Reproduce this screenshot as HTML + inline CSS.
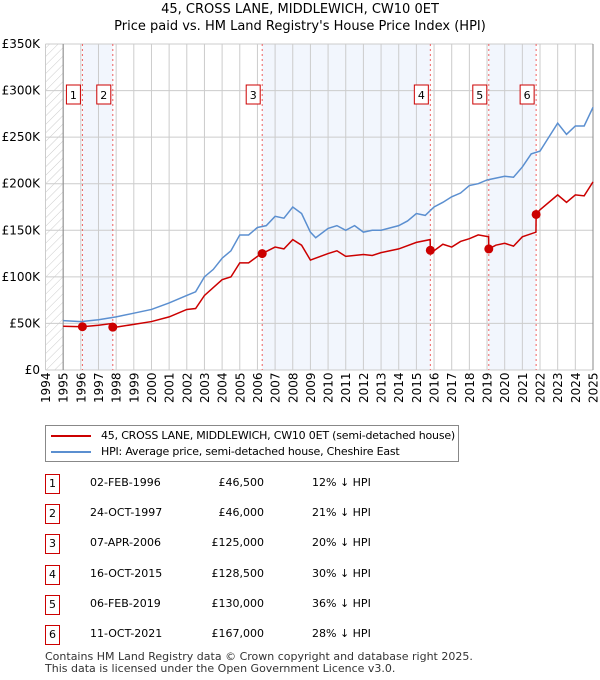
<!DOCTYPE html>
<html><head><meta charset="utf-8"><style>
body{margin:0;background:#fff;font-family:"DejaVu Sans","Liberation Sans",sans-serif;}
#wrap{position:relative;width:600px;height:680px;overflow:hidden;}
.t{position:absolute;font-size:11px;color:#000;white-space:nowrap;}
.box{position:absolute;width:13px;height:18px;border:1px solid #c00;font-size:11px;text-align:center;line-height:18px;}
</style></head><body>
<div id="wrap">
<svg id="chart" width="600" height="420" style="position:absolute;left:0;top:0"></svg>
<div style="position:absolute;left:45px;top:425px;width:412px;height:35px;border:1px solid #888;">
 <div style="position:absolute;left:5px;top:3px;font-size:11px;white-space:nowrap;letter-spacing:-0.2px"><span style="display:inline-block;width:40px;height:2px;background:#c00;vertical-align:middle;margin-right:10px"></span>45, CROSS LANE, MIDDLEWICH, CW10 0ET (semi-detached house)</div>
 <div style="position:absolute;left:5px;top:19px;font-size:11px;white-space:nowrap;letter-spacing:-0.2px"><span style="display:inline-block;width:40px;height:2px;background:#5b8fd0;vertical-align:middle;margin-right:10px"></span>HPI: Average price, semi-detached house, Cheshire East</div>
</div>
<div id="tbl"></div>
<div class="t" style="left:45px;top:650px;font-size:11px;color:#333">Contains HM Land Registry data © Crown copyright and database right 2025.</div>
<div class="t" style="left:45px;top:662px;font-size:11px;color:#333">This data is licensed under the Open Government Licence v3.0.</div>
</div>
<script>
const yTicks=[0,50,100,150,200,250,300,350];
const years=[1994,1995,1996,1997,1998,1999,2000,2001,2002,2003,2004,2005,2006,2007,2008,2009,2010,2011,2012,2013,2014,2015,2016,2017,2018,2019,2020,2021,2022,2023,2024,2025];
const hpiDates=[1995,1996,1997,1998,1999,2000,2001,2002,2002.5,2003,2003.5,2004,2004.5,2005,2005.5,2006,2006.5,2007,2007.5,2008,2008.5,2009,2009.3,2010,2010.5,2011,2011.5,2012,2012.5,2013,2014,2014.5,2015,2015.5,2016,2016.5,2017,2017.5,2018,2018.5,2019,2019.5,2020,2020.5,2021,2021.5,2022,2022.5,2023,2023.5,2024,2024.5,2025];
const hpiValues=[53,52,54,57,61,65,72,80,84,100,108,120,128,145,145,153,155,165,163,175,168,148,142,152,155,150,155,148,150,150,155,160,168,166,175,180,186,190,198,200,204,206,208,207,218,232,235,250,265,253,262,262,282];
const redDates=[1995,1996.09,1997,1997.8,1997.81,1998,1999,2000,2001,2002,2002.5,2003,2004,2004.5,2005,2005.5,2006,2006.27,2007,2007.5,2008,2008.5,2009,2010,2010.5,2011,2012,2012.5,2013,2014,2015,2015.78,2015.79,2016,2016.5,2017,2017.5,2018,2018.5,2019.09,2019.1,2019.5,2020,2020.5,2021,2021.77,2021.78,2022,2023,2023.5,2024,2024.5,2025];
const redValues=[47,46.5,48,50,46,46,49,52,57,65,66,80,97,100,115,115,122,125,132,130,140,134,118,125,128,122,124,123,126,130,137,140,128.5,128,135,132,138,141,145,143,130,134,136,133,143,148,167,172,188,180,188,187,202];
const saleLabels=["1","2","3","4","5","6"];
const saleDates=[1996.09,1997.81,2006.27,2015.79,2019.10,2021.78];
const salePrices=[46.5,46,125,128.5,130,167];
const saleDateText=["02-FEB-1996","24-OCT-1997","07-APR-2006","16-OCT-2015","06-FEB-2019","11-OCT-2021"];
const salePriceText=["£46,500","£46,000","£125,000","£128,500","£130,000","£167,000"];
const salePctText=["12% ↓ HPI","21% ↓ HPI","20% ↓ HPI","30% ↓ HPI","36% ↓ HPI","28% ↓ HPI"];

const FF='DejaVu Sans, Liberation Sans, sans-serif';
const X0=45.5,X1=593,Y0=370,Y1=44;
const xs=v=>X0+(v-1994)/(2025-1994)*(X1-X0);
const ys=v=>Y0-v/350*(Y0-Y1);
const NS="http://www.w3.org/2000/svg";
const svg=document.getElementById('chart');
function mk(tag,attrs,parent){const e=document.createElementNS(NS,tag);for(const k in attrs)e.setAttribute(k,attrs[k]);(parent||svg).appendChild(e);return e;}
const defs=mk('defs',{});
const pat=mk('pattern',{id:'hatch',width:6,height:6,patternUnits:'userSpaceOnUse',patternTransform:'rotate(45)'},defs);
mk('line',{x1:0,y1:0,x2:0,y2:6,stroke:'#ccc','stroke-width':1},pat);
let e=mk('rect',{x:X0,y:Y1,width:xs(1995)-X0,height:Y0-Y1,fill:'url(#hatch)'});


for(let i=0;i<6;i+=2){
 const b=mk('rect',{x:xs(saleDates[i]),y:Y1,width:xs(saleDates[i+1])-xs(saleDates[i]),height:Y0-Y1,fill:'#f2f6fd'});
 
 
}
years.forEach(y=>{const l=mk('line',{x1:xs(y),x2:xs(y),y1:Y1,y2:Y0,stroke:'#ccc','stroke-width':1});
 
 
 const t=mk('text',{x:0,y:0,transform:`translate(${xs(y)+4.5},${Y0+33}) rotate(-90)`,'font-size':12,'font-family':FF});
 t.textContent=y;
 
 
});
yTicks.forEach(v=>{const l=mk('line',{x1:X0,x2:X1,y1:ys(v),y2:ys(v),stroke:'#ccc','stroke-width':1});
 
 
 const t=mk('text',{x:40,y:ys(v)+4,'text-anchor':'end','font-size':12,'font-family':FF});
 t.textContent=v===0?'£0':'£'+v+'K';
 
 
});
mk('line',{x1:xs(1995),x2:xs(1995),y1:Y1,y2:Y0,stroke:'#888'});
mk('line',{x1:X1,x2:X1,y1:Y1,y2:Y0,stroke:'#888'});
saleDates.forEach((d,i)=>{const l=mk('line',{x1:xs(d),x2:xs(d),y1:Y1,y2:Y0,stroke:'#f06060','stroke-dasharray':'2,3','stroke-width':1});
 
 
});
let p=mk('polyline',{points:hpiDates.map((d,i)=>xs(d)+','+ys(hpiValues[i])).join(' '),fill:'none',stroke:'#5b8fd0','stroke-width':1.5});


p=mk('polyline',{points:redDates.map((d,i)=>xs(d)+','+ys(redValues[i])).join(' '),fill:'none',stroke:'#cc0000','stroke-width':1.5});


saleDates.forEach((d,i)=>{
 const c=mk('circle',{cx:xs(d),cy:ys(salePrices[i]),r:4.5,fill:'#cc0000'});
 
 
 const g=mk('g',{});
 
 
 mk('rect',{x:xs(d)-16,y:85,width:14,height:19,fill:'#fff',stroke:'#c00'},g);
 const t=mk('text',{x:xs(d)-9,y:99,'text-anchor':'middle','font-size':11,'font-family':FF},g);
 t.textContent=saleLabels[i];
});
const t1=mk('text',{x:300,y:13,'text-anchor':'middle','font-size':13,'font-family':FF});t1.textContent='45, CROSS LANE, MIDDLEWICH, CW10 0ET';


const t2=mk('text',{x:300,y:30,'text-anchor':'middle','font-size':13,'font-family':FF});t2.textContent="Price paid vs. HM Land Registry's House Price Index (HPI)";


const tbl=document.getElementById('tbl');
saleLabels.forEach((l,i)=>{
 const top=474+i*30.2;
 const row=document.createElement('div');
 
 
 row.innerHTML=`<div class="box" style="left:45px;top:${top}px">${l}</div><div class="t" style="left:90px;top:${top+2}px">${saleDateText[i]}</div><div class="t" style="right:336px;top:${top+2}px">${salePriceText[i]}</div><div class="t" style="left:312px;top:${top+2}px">${salePctText[i]}</div>`;
 tbl.appendChild(row);
});
</script>
</body></html>
